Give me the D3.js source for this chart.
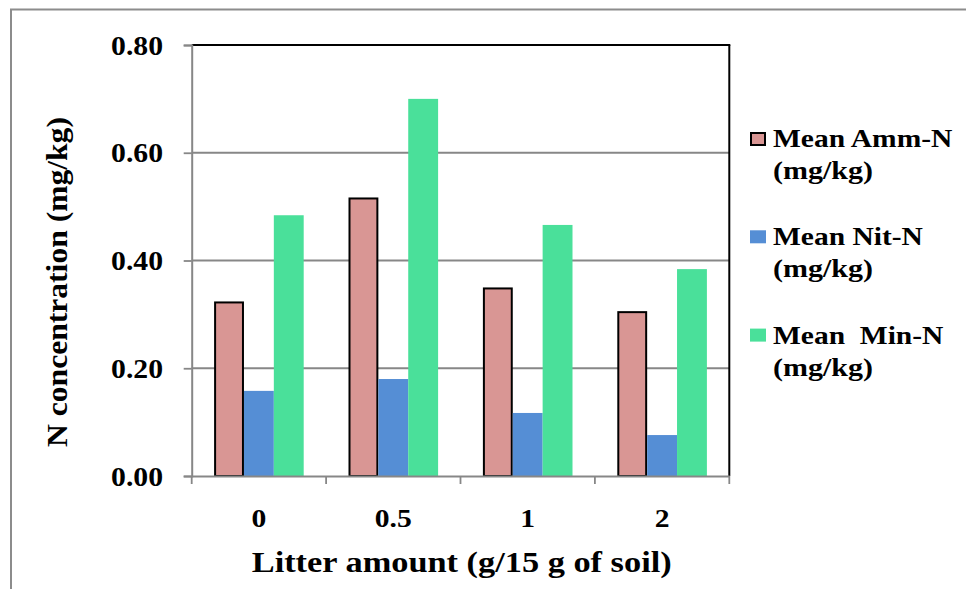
<!DOCTYPE html>
<html><head><meta charset="utf-8">
<script src="https://cdn.jsdelivr.net/npm/d3@7"></script>
<style>
html,body{margin:0;padding:0;background:#fff;}
text{font-family:"Liberation Serif","Times New Roman",serif;font-weight:bold;fill:#000;white-space:pre;}
</style></head>
<body><svg id="c" width="966" height="589"></svg>
<script>
const categories = ["0", "0.5", "1", "2"];
const seriesNames = ["Mean Amm-N", "Mean Nit-N", "Mean  Min-N"];
const ammN = [0.324, 0.517, 0.350, 0.306];
const nitN = [0.158, 0.180, 0.117, 0.076];
const minN = [0.484, 0.700, 0.466, 0.384];
const yTicks = [0, 0.2, 0.4, 0.6, 0.8];
const colors = ["#D99694", "#558ED5", "#4AE09A"];

const series = [ammN, nitN, minN];
const svg = d3.select("#c");

// outer frame
svg.append("rect").attr("x", 11).attr("y", 9.5).attr("width", 1000).attr("height", 700)
  .attr("fill", "none").attr("stroke", "#8c8c8c").attr("stroke-width", 2);

const L = 191.7, R = 729.3, T = 45, B = 476;
const x0 = d3.scaleBand().domain(categories).range([L, R]).padding(0);
const bw = x0.bandwidth();
const gap = bw / 6;
const x1 = d3.scaleBand().domain(d3.range(3)).range([gap, bw - gap]).padding(0);
const y = d3.scaleLinear().domain([0, 0.8]).range([B, T]);

// gridlines
svg.append("g").selectAll("line").data(yTicks.filter(v => v > 0 && v < 0.8)).join("line")
  .attr("x1", L).attr("x2", R).attr("y1", d => y(d)).attr("y2", d => y(d))
  .attr("stroke", "#878787").attr("stroke-width", 1.8);

// bars
const g = svg.append("g");
categories.forEach((c, ci) => {
  series.forEach((s, si) => {
    const rect = g.append("rect")
      .attr("x", x0(c) + x1(si) + (si === 0 ? 1 : 0))
      .attr("y", y(s[ci]) + (si === 0 ? 1 : 0))
      .attr("width", x1.bandwidth() - (si === 0 ? 2 : 0))
      .attr("height", y(0) - y(s[ci]) - (si === 0 ? 1 : 0))
      .attr("fill", colors[si]);
    if (si === 0) rect.attr("stroke", "#000").attr("stroke-width", 2);
  });
});

// frame top/right black
svg.append("line").attr("x1", L).attr("x2", R + 1).attr("y1", T).attr("y2", T).attr("stroke", "#000").attr("stroke-width", 2);
svg.append("line").attr("x1", R).attr("x2", R).attr("y1", T).attr("y2", B).attr("stroke", "#000").attr("stroke-width", 2);

// axes
const yAx = svg.append("g").attr("transform", `translate(${L},0)`)
  .call(d3.axisLeft(y).tickValues(yTicks).tickFormat(d3.format(".2f")).tickSize(8).tickPadding(0));
yAx.select(".domain").attr("stroke", "#878787").attr("stroke-width", 2);
yAx.selectAll(".tick line").attr("stroke", "#878787").attr("stroke-width", 1.8);
yAx.selectAll(".tick text").remove();

const xAx = svg.append("g").attr("transform", `translate(0,${B})`)
  .call(d3.axisBottom(x0).tickSize(0).tickFormat(""));
xAx.select(".domain").attr("stroke", "#878787").attr("stroke-width", 2);
xAx.selectAll(".tick").remove();
svg.append("g").selectAll("line").data(categories.concat(["end"])).join("line")
  .attr("x1", (d, i) => i < categories.length ? x0(d) : R)
  .attr("x2", (d, i) => i < categories.length ? x0(d) : R)
  .attr("y1", B).attr("y2", B + 8).attr("stroke", "#878787").attr("stroke-width", 1.8);

// text with horizontal stretch k; if target given, k fitted to target width
function stext(x, yy, str, size, anchor, k, rot, target) {
  const t = svg.append("text").attr("text-anchor", anchor).style("font-size", size + "px").text(str);
  if (target) k = target / t.node().getComputedTextLength();
  t.attr("transform", `translate(${x},${yy})` + (rot ? ` rotate(${rot})` : "") + ` scale(${k},1)`);
  return t;
}

// y tick labels
yTicks.forEach(v => stext(163, y(v) + 9.5, d3.format(".2f")(v), 27, "end", 1.1));
// x tick labels
categories.forEach(c => stext(x0(c) + bw / 2, 527, c, 26, "middle", 1.14));

// axis titles
stext(461.7, 571.5, "Litter amount (g/15 g of soil)", 30, "middle", 1, 0, 420);
stext(67, 282, "N concentration (mg/kg)", 30, "middle", 1, -90, 330);

// legend
const legY = [147, 245.3, 343.6];
seriesNames.forEach((n, i) => {
  const r = svg.append("rect").attr("x", 750).attr("y", legY[i] - 15).attr("width", 16).attr("height", 13)
    .attr("fill", colors[i]);
  if (i === 0) r.attr("x", 751).attr("y", legY[i] - 14).attr("width", 14).attr("height", 12).attr("stroke", "#000").attr("stroke-width", 2);
  stext(773, legY[i], n, 25, "start", 1.18);
  stext(773, legY[i] + 32, "(mg/kg)", 25, "start", 1.2);
});
</script></body></html>
